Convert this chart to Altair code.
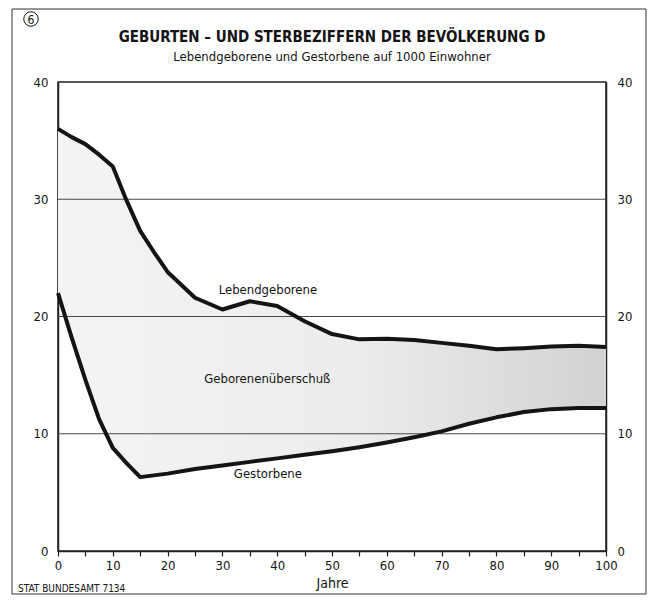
import altair as alt
import pandas as pd

# ---- data ----
years = [0, 2.5, 5, 7.5, 10, 12.5, 15, 17.5, 20, 25, 30, 35, 40, 45, 50,
         55, 60, 65, 70, 75, 80, 85, 90, 95, 100]
lebendgeborene = [36.0, 35.3, 34.7, 33.8, 32.8, 29.9, 27.3, 25.5, 23.8, 21.6, 20.6,
                  21.3, 20.9, 19.6, 18.5, 18.05, 18.1, 18.0, 17.75, 17.5, 17.2,
                  17.3, 17.45, 17.5, 17.4]
gestorbene = [22.0, 18.2, 14.6, 11.25, 8.8, 7.5, 6.3, 6.45, 6.6, 7.0, 7.3,
              7.6, 7.9, 8.2, 8.5, 8.85, 9.25, 9.7, 10.2, 10.85, 11.4,
              11.85, 12.1, 12.2, 12.2]

grid_values = [10, 20, 30]
y_ticks = [0, 10, 20, 30, 40]
x_ticks = list(range(0, 101, 5))

label_texts = ["Lebendgeborene", "Geborenenüberschuß", "Gestorbene"]
label_x = [38.3, 38.2, 38.3]
label_y = [22.3, 14.7, 6.55]

title_text = "GEBURTEN – UND STERBEZIFFERN DER BEVÖLKERUNG D"
subtitle_text = "Lebendgeborene und Gestorbene auf 1000 Einwohner"
source_text = "STAT BUNDESAMT 7134"

FONT = "'Liberation Sans Narrow', 'DejaVu Sans Condensed', 'DejaVu Sans', sans-serif"
INK = "#141414"

W, H = 548, 469

df = pd.DataFrame({"Jahr": years, "Lebendgeborene": lebendgeborene, "Gestorbene": gestorbene})

xscale = alt.Scale(domain=[0, 100], nice=False, zero=False)
yscale = alt.Scale(domain=[0, 40], nice=False)

x_axis = alt.Axis(values=x_ticks, labelExpr="datum.value % 10 == 0 ? datum.label : ''",
                  title="Jahre", grid=False, tickSize=5, labelPadding=3, titlePadding=4,
                  titleFontWeight="normal", titleFontSize=14, labelFlush=False)

fill = alt.Gradient(
    gradient="linear",
    stops=[alt.GradientStop(color="#f4f4f4", offset=0),
           alt.GradientStop(color="#ececec", offset=0.55),
           alt.GradientStop(color="#d2d2d2", offset=1)],
    x1=0, x2=1, y1=0, y2=0,
)

base = alt.Chart(df)

area = base.mark_area(fill=fill, interpolate="linear").encode(
    x=alt.X("Jahr:Q", scale=xscale, axis=x_axis),
    y=alt.Y("Lebendgeborene:Q", scale=yscale,
            axis=alt.Axis(orient="left", values=y_ticks, ticks=False, grid=False,
                          labelPadding=10, title=None)),
    y2="Gestorbene:Q",
)

grid = alt.Chart(pd.DataFrame({"v": grid_values})).mark_rule(
    color="#4a4a4a", strokeWidth=1
).encode(y=alt.Y("v:Q", scale=yscale, axis=None))

line_birth = base.mark_line(color=INK, strokeWidth=4, strokeJoin="round").encode(
    x=alt.X("Jahr:Q", scale=xscale, axis=x_axis),
    y=alt.Y("Lebendgeborene:Q", scale=yscale, axis=None),
)
line_death = base.mark_line(color=INK, strokeWidth=4, strokeJoin="round").encode(
    x=alt.X("Jahr:Q", scale=xscale, axis=x_axis),
    y=alt.Y("Gestorbene:Q", scale=yscale,
            axis=alt.Axis(orient="right", values=y_ticks, ticks=False, grid=False,
                          labelPadding=11, title=None)),
)

labels = alt.Chart(pd.DataFrame({"t": label_texts, "Jahr": label_x, "y": label_y})).mark_text(
    font=FONT, fontSize=13, color=INK, baseline="middle", align="center"
).encode(
    x=alt.X("Jahr:Q", scale=xscale, axis=x_axis),
    y=alt.Y("y:Q", scale=yscale, axis=None),
    text="t:N",
)

one = pd.DataFrame({"k": [0]})
frame = alt.Chart(one).mark_rect(fillOpacity=0, stroke="#333", strokeWidth=1).encode(
    x=alt.value(-46), x2=alt.value(588), y=alt.value(-73), y2=alt.value(512)
)

title = alt.Chart(pd.DataFrame({"t": [title_text]})).mark_text(
    font=FONT, fontSize=15, fontWeight="bold", color=INK, align="center", baseline="middle"
).encode(x=alt.value(W / 2), y=alt.value(-45), text="t:N")

subtitle = alt.Chart(pd.DataFrame({"t": [subtitle_text]})).mark_text(
    font=FONT, fontSize=13, color=INK, align="center", baseline="middle"
).encode(x=alt.value(W / 2), y=alt.value(-25), text="t:N")

badge_circle = alt.Chart(one).mark_point(
    shape="circle", filled=False, size=210, stroke=INK, strokeWidth=1, opacity=1
).encode(x=alt.value(-27), y=alt.value(-63))

badge_text = alt.Chart(pd.DataFrame({"t": ["6"]})).mark_text(
    font=FONT, fontSize=12, color=INK, align="center", baseline="middle"
).encode(x=alt.value(-27), y=alt.value(-62.5), text="t:N")

source = alt.Chart(pd.DataFrame({"t": [source_text]})).mark_text(
    font=FONT, fontSize=10, color=INK, align="left", baseline="middle"
).encode(x=alt.value(-40), y=alt.value(507), text="t:N")

chart = alt.layer(
    area, grid, line_birth, line_death, labels, frame, title, subtitle,
    badge_circle, badge_text, source
).resolve_axis(y="independent").properties(
    width=W, height=H,
    autosize=alt.AutoSizeParams(type="none"),
    padding={"left": 50, "top": 74, "right": 41, "bottom": 44},
).configure_view(
    stroke="#222", strokeWidth=1.5
).configure_axis(
    labelFont=FONT, titleFont=FONT, labelFontSize=13, labelColor=INK, titleColor=INK,
    domainColor="#222", domainWidth=1.5, tickColor="#222", tickWidth=1.2,
)

chart.save("out.html", embed_options={"renderer": "svg", "actions": False})
